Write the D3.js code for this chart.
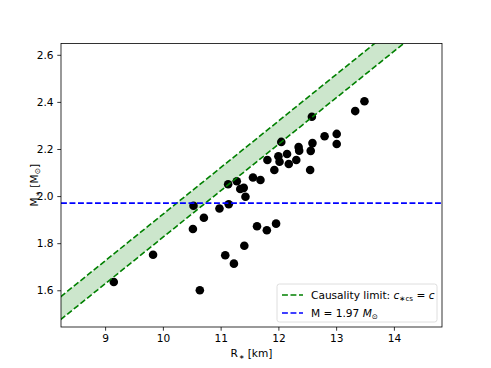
<!DOCTYPE html>
<html>
<head>
<meta charset="utf-8">
<script src="https://cdn.jsdelivr.net/npm/d3@7"></script>
<style>
  body { margin: 0; background: #fff; }
  text { font-family: 'DejaVu Sans', sans-serif; }
</style>
</head>
<body>
<div id="chart"></div>
<script>
'use strict';

// Radius [km] and mass [Msun] of the stars
const radius = [9.15, 9.83, 10.53, 10.52, 10.71, 10.98, 11.14, 11.13, 11.28, 11.34,
  11.40, 11.43, 11.56, 11.69, 11.81, 11.93, 12.00, 12.02, 12.05, 12.15,
  12.18, 12.31, 12.35, 12.36, 12.56, 12.59, 12.58, 12.55, 12.80, 13.01,
  13.01, 13.33, 13.49, 11.08, 11.23, 11.41, 11.63, 11.80, 11.96, 10.64];
const mass = [1.635, 1.751, 1.959, 1.860, 1.908, 1.947, 1.965, 2.050, 2.063, 2.030,
  2.035, 1.997, 2.079, 2.068, 2.153, 2.111, 2.169, 2.146, 2.230, 2.179,
  2.136, 2.153, 2.208, 2.193, 2.192, 2.225, 2.337, 2.111, 2.254, 2.264,
  2.221, 2.361, 2.403, 1.749, 1.713, 1.789, 1.872, 1.855, 1.883, 1.600];

// Causality band: two straight edges, given by their end points
const causalityR = [8, 15];
const causalityUpperM = [1.527, 2.912];
const causalityLowerM = [1.430, 2.812];

// Maximum observed mass
const maxMass = 1.97;

const xTicks = [9, 10, 11, 12, 13, 14];
const yTicks = [1.6, 1.8, 2.0, 2.2, 2.4, 2.6];

const width = 491;
const height = 368;
const margin = {left: 61, right: 49, top: 43.5, bottom: 41};

const svg = d3.select('#chart')
  .append('svg')
  .attr('width', width)
  .attr('height', height);

const x = d3.scaleLinear()
  .domain([8.236, 14.833])
  .range([margin.left, width - margin.right]);

const y = d3.scaleLinear()
  .domain([1.444, 2.648])
  .range([height - margin.bottom, margin.top]);

svg.append('defs').append('clipPath')
  .attr('id', 'plot-clip')
  .append('rect')
  .attr('x', margin.left)
  .attr('y', margin.top)
  .attr('width', width - margin.left - margin.right)
  .attr('height', height - margin.top - margin.bottom);

const plot = svg.append('g').attr('clip-path', 'url(#plot-clip)');

// Band between the two causality edges
const band = causalityR.map((r, i) => ({r: r, lo: causalityLowerM[i], hi: causalityUpperM[i]}));
plot.append('path')
  .datum(band)
  .attr('d', d3.area().x(d => x(d.r)).y0(d => y(d.lo)).y1(d => y(d.hi)))
  .attr('fill', '#cce6cc');

// Stars
plot.selectAll('circle.star')
  .data(radius.map((r, i) => ({r: r, m: mass[i]})))
  .enter()
  .append('circle')
  .attr('class', 'star')
  .attr('cx', d => x(d.r))
  .attr('cy', d => y(d.m))
  .attr('r', 4.3)
  .attr('fill', '#000');

const dash = '5.9,2.6';
const line = d3.line().x(d => x(d[0])).y(d => y(d[1]));

[causalityUpperM, causalityLowerM].forEach(edge => {
  plot.append('path')
    .attr('d', line(causalityR.map((r, i) => [r, edge[i]])))
    .attr('fill', 'none')
    .attr('stroke', '#008000')
    .attr('stroke-width', 1.6)
    .attr('stroke-dasharray', dash);
});

plot.append('path')
  .attr('d', line([[x.domain()[0], maxMass], [x.domain()[1], maxMass]]))
  .attr('fill', 'none')
  .attr('stroke', '#0000ff')
  .attr('stroke-width', 1.6)
  .attr('stroke-dasharray', dash);

// Axes
const xAxis = svg.append('g')
  .attr('transform', `translate(0, ${height - margin.bottom})`)
  .call(d3.axisBottom(x).tickValues(xTicks).tickFormat(d3.format('d'))
    .tickSizeInner(3.7).tickSizeOuter(0).tickPadding(3.7));

const yAxis = svg.append('g')
  .attr('transform', `translate(${margin.left}, 0)`)
  .call(d3.axisLeft(y).tickValues(yTicks).tickFormat(d3.format('.1f'))
    .tickSizeInner(3.7).tickSizeOuter(0).tickPadding(3.7));

[xAxis, yAxis].forEach(axis => {
  axis.select('.domain').remove();
  axis.selectAll('.tick line').attr('stroke', '#000').attr('stroke-width', 0.8);
  axis.selectAll('.tick text')
    .attr('font-size', '10.6px')
    .attr('font-family', 'DejaVu Sans, sans-serif')
    .attr('fill', '#000');
});

// Frame
svg.append('rect')
  .attr('x', margin.left)
  .attr('y', margin.top)
  .attr('width', width - margin.left - margin.right)
  .attr('height', height - margin.top - margin.bottom)
  .attr('fill', 'none')
  .attr('stroke', '#000')
  .attr('stroke-width', 0.8);

// Axis labels
const xLabel = svg.append('text')
  .attr('x', (margin.left + width - margin.right) / 2)
  .attr('y', 357)
  .attr('text-anchor', 'middle')
  .attr('font-size', '10.6px');
xLabel.append('tspan').text('R');
xLabel.append('tspan').attr('font-size', '6.5px').attr('dx', 1).attr('dy', 2).text('\u2217');
xLabel.append('tspan').attr('dy', -2).text(' [km]');

const yLabel = svg.append('text')
  .attr('transform', `translate(38, ${(margin.top + height - margin.bottom) / 2}) rotate(-90)`)
  .attr('text-anchor', 'middle')
  .attr('font-size', '10.6px');
yLabel.append('tspan').text('M');
yLabel.append('tspan').attr('font-size', '6.5px').attr('dx', 1).attr('dy', 2).text('\u2217');
yLabel.append('tspan').attr('dy', -2).text(' [M');
yLabel.append('tspan').attr('font-size', '7.5px').attr('dy', 2).text('⊙');
yLabel.append('tspan').attr('dy', -2).text(']');

// Legend
const legend = svg.append('g');
legend.append('rect')
  .attr('x', 277)
  .attr('y', 284)
  .attr('width', 160)
  .attr('height', 38)
  .attr('rx', 2.5)
  .attr('fill', '#fff')
  .attr('fill-opacity', 0.8)
  .attr('stroke', '#d6d6d6')
  .attr('stroke-width', 0.8);

const legendRows = [
  {color: '#008000', y: 295},
  {color: '#0000ff', y: 313}
];
legendRows.forEach(row => {
  legend.append('line')
    .attr('x1', 282).attr('x2', 303)
    .attr('y1', row.y).attr('y2', row.y)
    .attr('stroke', row.color)
    .attr('stroke-width', 1.6)
    .attr('stroke-dasharray', dash);
});

const t1 = legend.append('text')
  .attr('x', 311)
  .attr('y', 298.8)
  .attr('font-size', '10.6px');
t1.append('tspan').text('Causality limit: ');
t1.append('tspan').attr('font-style', 'italic').text('c');
t1.append('tspan').attr('font-size', '7.2px').attr('dy', 2).text('\u2217cs');
t1.append('tspan').attr('dy', -2).text(' = ');
t1.append('tspan').attr('font-style', 'italic').text('c');

const t2 = legend.append('text')
  .attr('x', 311)
  .attr('y', 316.8)
  .attr('font-size', '10.6px');
t2.append('tspan').text('M = 1.97 ');
t2.append('tspan').attr('font-style', 'italic').text('M');
t2.append('tspan').attr('font-size', '7.2px').attr('dy', 2).text('⊙');
</script>
</body>
</html>
